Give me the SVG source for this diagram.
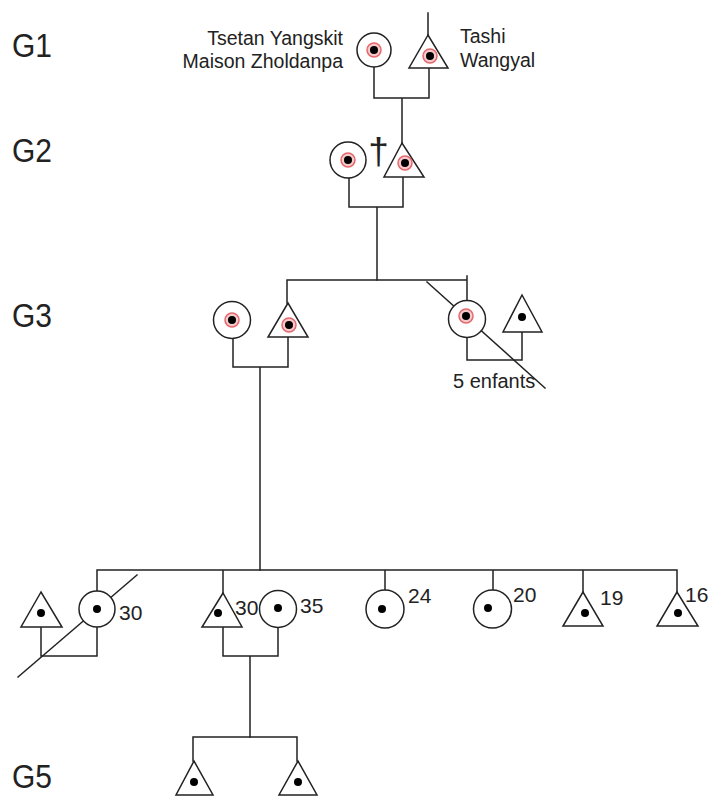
<svg xmlns="http://www.w3.org/2000/svg" width="709" height="796" viewBox="0 0 709 796">
<defs>
<style>
.ln{stroke:#222;stroke-width:1.5;fill:none;stroke-linecap:square}
.sh{stroke:#222;stroke-width:1.5;fill:#fff}
.dot{fill:#000}
.ring{fill:#f7c9cb;stroke:#e3686d;stroke-width:1.5}
.t{font-family:"Liberation Sans",Arial,sans-serif;fill:#222}
.gen{font-size:33px}
.name{font-size:19.5px}
.num{font-size:21px}
</style>
<g id="red-dot"><circle class="ring" cx="0" cy="0" r="7"/><circle class="dot" cx="0" cy="0" r="4"/></g>
</defs>
<rect width="709" height="796" fill="#fff"/>

<g id="gen-labels" class="t gen">
<text x="12" y="57" textLength="40" lengthAdjust="spacingAndGlyphs">G1</text>
<text x="12" y="162" textLength="40" lengthAdjust="spacingAndGlyphs">G2</text>
<text x="12" y="327" textLength="40" lengthAdjust="spacingAndGlyphs">G3</text>
<text x="12" y="788" textLength="40" lengthAdjust="spacingAndGlyphs">G5</text>
</g>

<g id="connectors">
<path class="ln" d="M428 13V35M374 67V98H429V68M402 98V143"/>
<path class="ln" d="M349 178V207H403V177M377 207V280"/>
<path class="ln" d="M287 303V280H467M467 276V300"/>
<path class="ln" d="M427 282L545 388"/>
<path class="ln" d="M233 338V367H288V337M260 367V570"/>
<path class="ln" d="M467 338V360H522V332"/>
<path class="ln" d="M97 591V570H677V592M223 570V593M385 570V590M493 570V590M583 570V592"/>
<path class="ln" d="M41 627V656H97V627"/>
<path class="ln" d="M18 677L137 575"/>
<path class="ln" d="M223 627V656H278V627M250 656V737"/>
<path class="ln" d="M193 761V737H297V761"/>
</g>

<g id="g1-woman"><circle class="sh" cx="374" cy="50" r="17"/><use href="#red-dot" x="374" y="50"/></g>
<g id="g1-man"><polygon class="sh" points="428,35 409,68 448,68"/><use href="#red-dot" x="430" y="56"/></g>
<g id="g1-labels" class="t name">
<text x="343" y="45" text-anchor="end">Tsetan Yangskit</text>
<text x="343" y="68" text-anchor="end">Maison Zholdanpa</text>
<text x="460" y="43">Tashi</text>
<text x="460" y="67">Wangyal</text>
</g>

<g id="g2-woman"><circle class="sh" cx="348" cy="160" r="18"/><use href="#red-dot" x="348" y="160"/>
<text class="t" x="378.5" y="164" font-size="37" text-anchor="middle">†</text></g>
<g id="g2-man"><polygon class="sh" points="402,143 384,177 424,177"/><use href="#red-dot" x="405" y="163"/></g>

<g id="g3-woman-left"><circle class="sh" cx="232" cy="320" r="18.5"/><use href="#red-dot" x="232" y="320"/></g>
<g id="g3-man-left"><polygon class="sh" points="288,303 268,337 308,337"/><use href="#red-dot" x="289" y="325"/></g>
<g id="g3-woman-right"><circle class="sh" cx="467" cy="319" r="18.5"/><use href="#red-dot" x="466" y="316"/></g>
<g id="g3-man-right"><polygon class="sh" points="522,295 503,332 542,332"/><circle class="dot" cx="522" cy="317" r="4"/></g>
<text class="t" x="453" y="388" font-size="20">5 enfants</text>

<g id="g4-man-1"><polygon class="sh" points="41,592 21,627 62,627"/><circle class="dot" cx="41" cy="613" r="4"/></g>
<g id="g4-woman-1"><circle class="sh" cx="97" cy="609" r="18"/><circle class="dot" cx="97" cy="609" r="4"/><text class="t num" x="119" y="620">30</text></g>
<g id="g4-man-2"><polygon class="sh" points="223,593 202,627 242,627"/><circle class="dot" cx="218" cy="613" r="4"/><text class="t num" x="235" y="615">30</text></g>
<g id="g4-woman-2"><circle class="sh" cx="278" cy="609" r="18.5"/><circle class="dot" cx="278" cy="608" r="4"/><text class="t num" x="300" y="613">35</text></g>
<g id="g4-woman-3"><circle class="sh" cx="385" cy="609" r="19"/><circle class="dot" cx="382" cy="609" r="4"/><text class="t num" x="408" y="603">24</text></g>
<g id="g4-woman-4"><circle class="sh" cx="492.5" cy="609" r="19"/><circle class="dot" cx="488" cy="608" r="4"/><text class="t num" x="513" y="602">20</text></g>
<g id="g4-man-3"><polygon class="sh" points="583,592 563,626 603,626"/><circle class="dot" cx="585" cy="613" r="4"/><text class="t num" x="600" y="605">19</text></g>
<g id="g4-man-4"><polygon class="sh" points="677,592 657,626 698,626"/><circle class="dot" cx="678" cy="613" r="4"/><text class="t num" x="685" y="602">16</text></g>

<g id="g5-man-1"><polygon class="sh" points="194,761 176,795 213,795"/><circle class="dot" cx="194" cy="782" r="4"/></g>
<g id="g5-man-2"><polygon class="sh" points="298,761 279,795 317,795"/><circle class="dot" cx="298" cy="782" r="4"/></g>
</svg>
